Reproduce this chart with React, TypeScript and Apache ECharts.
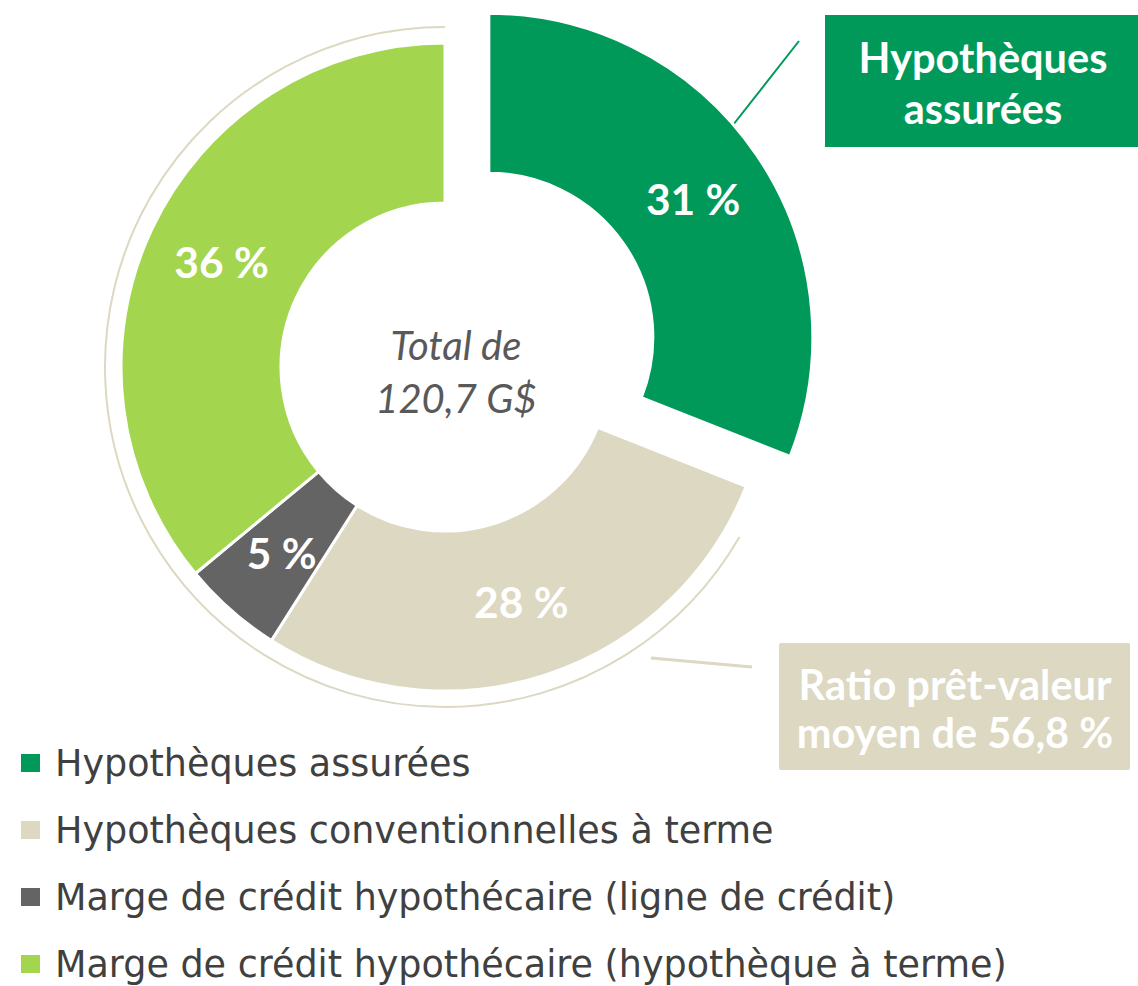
import React, { useEffect, useRef } from "react";
import * as echarts from "echarts";

const categories = [
  "Hypothèques assurées",
  "Hypothèques conventionnelles à terme",
  "Marge de crédit hypothécaire (ligne de crédit)",
  "Marge de crédit hypothécaire (hypothèque à terme)",
];
const shares = [31, 28, 5, 36];
const colors = ["#009959", "#DCD8C2", "#646464", "#A3D54F"];
const totalLabel = ["Total de", "120,7 G$"];
const calloutInsured = ["Hypothèques", "assurées"];
const calloutLtv = ["Ratio prêt-valeur", "moyen de 56,8 %"];

const FONT = "Lato";
const LEGEND_FONT = "DejaVu Sans";

export default function App() {
  const ref = useRef<HTMLDivElement>(null);
  useEffect(() => {
    if (!ref.current) return;
    const chart = echarts.init(ref.current, undefined, { renderer: "svg" });
    const cx = 445;
    const cy = 367;
    chart.setOption({
      animation: false,
      backgroundColor: "#ffffff",
      legend: {
        orient: "vertical",
        left: 19,
        top: 744,
        bottom: 0,
        padding: 0,
        icon: "rect",
        itemWidth: 21,
        itemHeight: 20,
        itemGap: 29,
        selectedMode: false,
        data: categories,
        textStyle: {
          fontFamily: LEGEND_FONT,
          fontSize: 36.5,
          lineHeight: 38,
          color: "#404040",
          padding: [0, 0, 0, 9],
        },
      },
      graphic: [
        {
          type: "arc",
          shape: { cx, cy, r: 340, startAngle: Math.PI / 6, endAngle: Math.PI * 1.5, clockwise: true },
          style: { stroke: colors[1], lineWidth: 2, fill: null },
          silent: true,
        },
        {
          type: "line",
          shape: { x1: 799, y1: 41, x2: 733, y2: 125 },
          style: { stroke: colors[0], lineWidth: 2 },
        },
        {
          type: "line",
          shape: { x1: 651, y1: 658, x2: 752, y2: 667 },
          style: { stroke: colors[1], lineWidth: 3 },
        },
        {
          type: "rect",
          shape: { x: 825, y: 15, width: 313, height: 132 },
          style: { fill: colors[0] },
        },
        {
          type: "text",
          x: 983,
          y: 82,
          style: {
            text: calloutInsured.join("\n"),
            align: "center",
            verticalAlign: "middle",
            fontFamily: FONT,
            fontWeight: "bold",
            fontSize: 41.5,
            lineHeight: 51,
            fill: "#ffffff",
          },
        },
        {
          type: "rect",
          shape: { x: 779, y: 643, width: 351, height: 127, r: 2 },
          style: { fill: colors[1] },
        },
        {
          type: "text",
          x: 955,
          y: 708,
          style: {
            text: calloutLtv.join("\n"),
            align: "center",
            verticalAlign: "middle",
            fontFamily: FONT,
            fontWeight: "bold",
            fontSize: 41.5,
            lineHeight: 48,
            fill: "#ffffff",
          },
        },
        {
          type: "text",
          x: 456,
          y: 371,
          style: {
            text: totalLabel.join("\n"),
            align: "center",
            verticalAlign: "middle",
            fontFamily: FONT,
            fontStyle: "italic",
            fontSize: 40,
            lineHeight: 53,
            fill: "#595959",
          },
        },
      ],
      series: [
        {
          type: "pie",
          center: [cx, cy],
          radius: [164, 324],
          startAngle: 90,
          clockwise: true,
          selectedMode: "single",
          selectedOffset: 53,
          avoidLabelOverlap: false,
          emphasis: { disabled: true },
          itemStyle: { borderColor: "#ffffff", borderWidth: 3 },
          label: {
            show: true,
            position: "inside",
            formatter: "{c} %",
            color: "#ffffff",
            fontFamily: FONT,
            fontWeight: "bold",
            fontSize: 42.5,
          },
          labelLine: { show: false },
          data: categories.map((name, i) => ({
            name,
            value: shares[i],
            selected: i === 0,
            itemStyle: { color: colors[i] },
          })),
        },
      ],
    });
    return () => chart.dispose();
  }, []);
  return (
    <div
      ref={ref}
      style={{ position: "fixed", left: 0, top: 0, width: 1138, height: 986 }}
    />
  );
}
